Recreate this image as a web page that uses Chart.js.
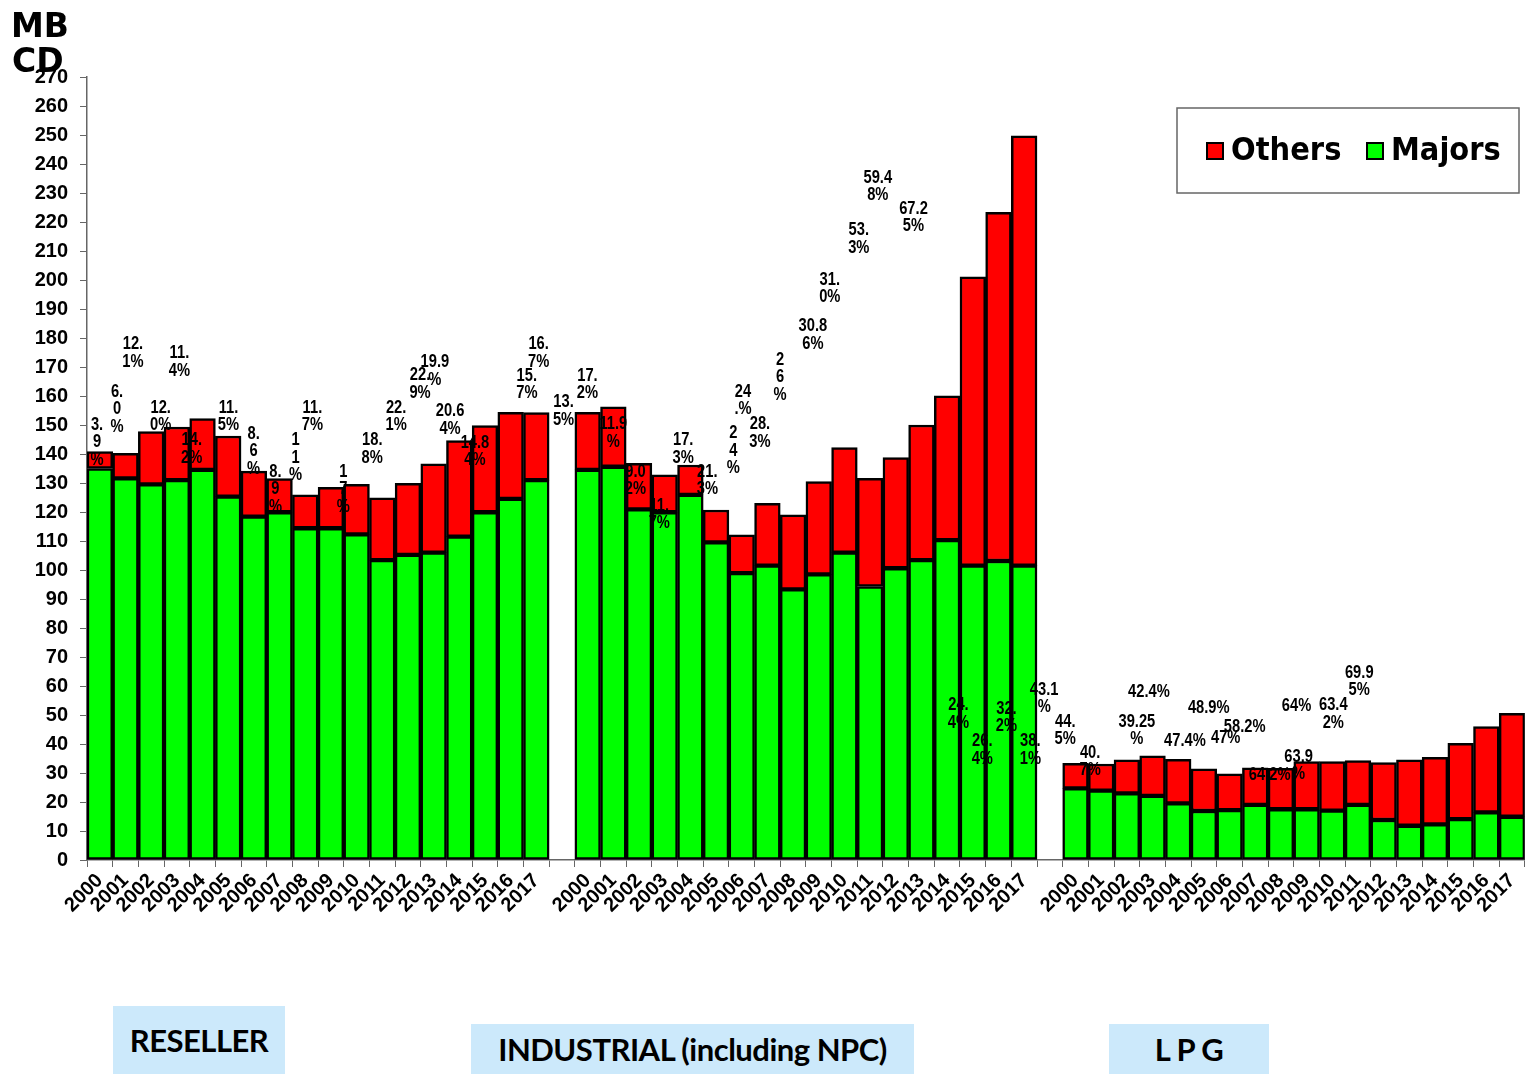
<!DOCTYPE html>
<html>
<head>
<meta charset="utf-8">
<title>MBCD - Majors vs Others</title>
<script src="https://cdn.jsdelivr.net/npm/chart.js@4.4.1/dist/chart.umd.min.js"></script>
<style>
  html, body { margin: 0; padding: 0; background: #fff; }
  #wrap { position: relative; width: 1531px; height: 1074px; }
  #chart { position: absolute; left: 0; top: 0; }
  .seg {
    position: absolute; background: #cce9fb; color: #000;
    font-family: Lato, "Open Sans", sans-serif; font-weight: 700;
    font-size: 31px; display: flex; align-items: center; justify-content: center;
    letter-spacing: -0.5px;
  }
</style>
</head>
<body>
<div id="wrap">
  <canvas id="chart" width="1531" height="1074"></canvas>
  <div class="seg" style="left:113px;top:1006px;width:172px;height:68px;">RESELLER</div>
  <div class="seg" style="left:471px;top:1024px;width:443px;height:50px;">INDUSTRIAL (including NPC)</div>
  <div class="seg" style="left:1109px;top:1024px;width:160px;height:50px;">L P G</div>
</div>
<script>
const years = ["2000","2001","2002","2003","2004","2005","2006","2007","2008",
  "2009","2010","2011","2012","2013","2014","2015","2016","2017"];

// MBCD
const resellerMajors   = [135.0,131.6,129.5,131.0,134.5,125.3,118.4,119.9,114.4,114.4,112.3,103.4,105.2,106.0,111.5,119.9,124.5,131.0];
const resellerOthers   = [5.8,8.6,18.2,18.3,17.7,20.9,15.7,11.6,11.5,14.1,17.2,21.5,24.7,30.6,33.1,29.9,29.9,23.3];
const industrialMajors = [134.5,135.6,120.9,119.9,125.9,109.5,98.9,101.5,93.3,98.5,106.0,94.3,100.6,103.4,110.3,101.5,103.1,101.5];
const industrialOthers = [19.9,20.7,15.9,12.9,10.3,11.2,13.2,21.5,25.7,32.0,36.2,37.3,38.2,46.6,49.8,99.6,120.2,148.2];
const lpgMajors        = [24.7,23.9,23.0,22.1,19.5,16.9,17.2,19.0,17.5,17.5,17.0,19.0,13.8,11.8,12.3,14.1,16.4,14.9];
const lpgOthers        = [8.6,9.2,11.5,13.8,15.2,14.5,12.5,12.8,14.1,16.4,16.9,15.3,19.8,22.7,23.1,26.1,29.6,35.7];

// percentage notes (share of others), as typed in the source text boxes
const noteText = [
  "3.\n9\n%","6.\n0\n%","12.\n1%","12.\n0%","11.\n4%","14.\n2%","11.\n5%","8.\n6\n%","8.\n9\n%",
  "1\n1\n%","11.\n7%","1\n7\n%","18.\n8%","22.\n1%","22.\n9%","19.9\n%","20.6\n4%","14.8\n4%",
  "15.\n7%","16.\n7%","13.\n5%",
  "17.\n2%","11.9\n%","9.0\n2%","11.\n7%","17.\n3%","21.\n3%","2\n4\n%","24\n.%","28.\n3%",
  "2\n6\n%","30.8\n6%","31.\n0%","53.\n3%","59.4\n8%","67.2\n5%","24.\n4%","26.\n4%","32.\n2%",
  "38.\n1%","43.1\n%",
  "44.\n5%","40.\n7%","39.25\n%","42.4%","47.4%","48.9%","47%","58.2%","64.2%","63.9\n%",
  "64%","63.4\n2%","69.9\n5%"
];
// where each note sits: category slot (fractional) and value on the MBCD axis
const noteSlot = [
  -0.11,0.67,1.29,2.37,3.10,3.58,5.01,5.99,6.84,
  7.62,8.28,9.48,10.61,11.54,12.47,13.05,13.64,14.61,
  16.63,17.09,18.06,
  18.99,20.0,20.86,21.79,22.72,23.66,24.67,25.05,25.71,
  26.49,27.77,28.43,29.56,30.3,31.69,33.44,34.37,35.31,
  36.24,36.78,
  37.6,38.57,40.39,40.86,42.26,43.19,43.85,44.59,45.56,46.69,
  46.61,48.04,49.05
];
const noteValue = [
  150.0,161.4,177.9,155.9,174.8,144.8,155.9,146.9,133.8,
  144.8,155.9,133.8,144.8,155.9,167.2,171.7,154.8,143.8,
  166.9,177.9,157.9,
  166.9,150.3,133.8,122.1,144.8,133.8,147.2,161.4,150.3,
  172.4,184.1,200.0,217.2,235.2,224.5,53.4,41.0,52.1,
  41.0,58.6,
  47.6,36.9,47.6,57.9,41.0,52.4,42.1,45.9,29.3,35.5,
  53.1,53.4,64.5
];

const labels = [...years, "", ...years, "", ...years];
const majors = [...resellerMajors, null, ...industrialMajors, null, ...lpgMajors];
const others = [...resellerOthers, null, ...industrialOthers, null, ...lpgOthers];

const RED = "#ff0000";
const GREEN = "#00ff00";

const notesPlugin = {
  id: "notes",
  afterDatasetsDraw(chart) {
    const { ctx, scales: { x, y } } = chart;
    ctx.save();
    ctx.fillStyle = "#000";
    ctx.font = 'bold 16px "Liberation Sans Narrow", "Arial Narrow", "Liberation Sans", Arial, sans-serif';
    ctx.textAlign = "center";
    ctx.textBaseline = "middle";
    noteText.forEach((t, i) => {
      const px = x.getPixelForValue(noteSlot[i]);
      const py = y.getPixelForValue(noteValue[i]);
      // slightly taller glyphs, like the source's narrow font
      t.split("\n").forEach((line, j) => {
        ctx.save();
        ctx.translate(px, py + j * 17.5);
        ctx.scale(0.92, 1.12);
        ctx.fillText(line, 0, 0);
        ctx.restore();
      });
    });
    ctx.restore();
  }
};

const decorPlugin = {
  id: "decor",
  afterDraw(chart) {
    const { ctx } = chart;
    ctx.save();
    // axis unit
    ctx.fillStyle = "#000";
    ctx.font = 'bold 33px "DejaVu Sans", Verdana, sans-serif';
    ctx.textAlign = "left";
    ctx.textBaseline = "alphabetic";
    ctx.fillText("MB", 11, 37);
    ctx.fillText("CD", 12, 72);

    // legend box
    const lx = chart.width - 354, ly = 108, lw = 342, lh = 85;
    ctx.strokeStyle = "#666";
    ctx.lineWidth = 1.5;
    ctx.strokeRect(lx, ly, lw, lh);
    const items = [["Others", RED, lx + 30], ["Majors", GREEN, lx + 190]];
    ctx.font = 'bold 29px "DejaVu Sans", Verdana, sans-serif';
    ctx.textBaseline = "middle";
    items.forEach(([name, col, ix]) => {
      ctx.fillStyle = col;
      ctx.fillRect(ix, ly + 35, 16, 16);
      ctx.strokeStyle = "#000";
      ctx.lineWidth = 2;
      ctx.strokeRect(ix, ly + 35, 16, 16);
      ctx.fillStyle = "#000";
      ctx.save();
      ctx.translate(ix + 24, ly + 44);
      ctx.scale(1, 1.12);
      ctx.fillText(name, 0, 0);
      ctx.restore();
    });
    ctx.restore();
  }
};

new Chart(document.getElementById("chart"), {
  type: "bar",
  data: {
    labels,
    datasets: [
      { label: "Majors", data: majors, backgroundColor: GREEN, borderColor: "#000",
        borderWidth: 2.5, borderSkipped: false },
      { label: "Others", data: others, backgroundColor: RED, borderColor: "#000",
        borderWidth: 2.5, borderSkipped: false }
    ]
  },
  options: {
    responsive: false,
    animation: false,
    devicePixelRatio: 1,
    layout: { padding: { top: 77, right: 2, left: 0, bottom: 0 } },
    categoryPercentage: 1.0,
    barPercentage: 1.0,
    plugins: { legend: { display: false }, tooltip: { enabled: false } },
    scales: {
      x: {
        stacked: true,
        afterFit: s => { s.height = 214; },
        border: { color: "#666", width: 1.5 },
        grid: { display: true, drawOnChartArea: false, tickLength: 7, color: "#666" },
        ticks: {
          autoSkip: false, maxRotation: 45, minRotation: 45,
          color: "#000", padding: 2,
          font: { family: '"Liberation Sans", Arial, sans-serif', weight: "bold", size: 20 }
        }
      },
      y: {
        stacked: true,
        min: 0, max: 270,
        afterFit: s => { s.width = 87; },
        border: { color: "#666", width: 1.5 },
        grid: { display: true, drawOnChartArea: false, tickLength: 7, color: "#666" },
        ticks: {
          stepSize: 10, autoSkip: false, color: "#000", padding: 12,
          font: { family: '"Liberation Sans", Arial, sans-serif', weight: "bold", size: 20 }
        }
      }
    }
  },
  plugins: [notesPlugin, decorPlugin]
});
</script>
</body>
</html>
